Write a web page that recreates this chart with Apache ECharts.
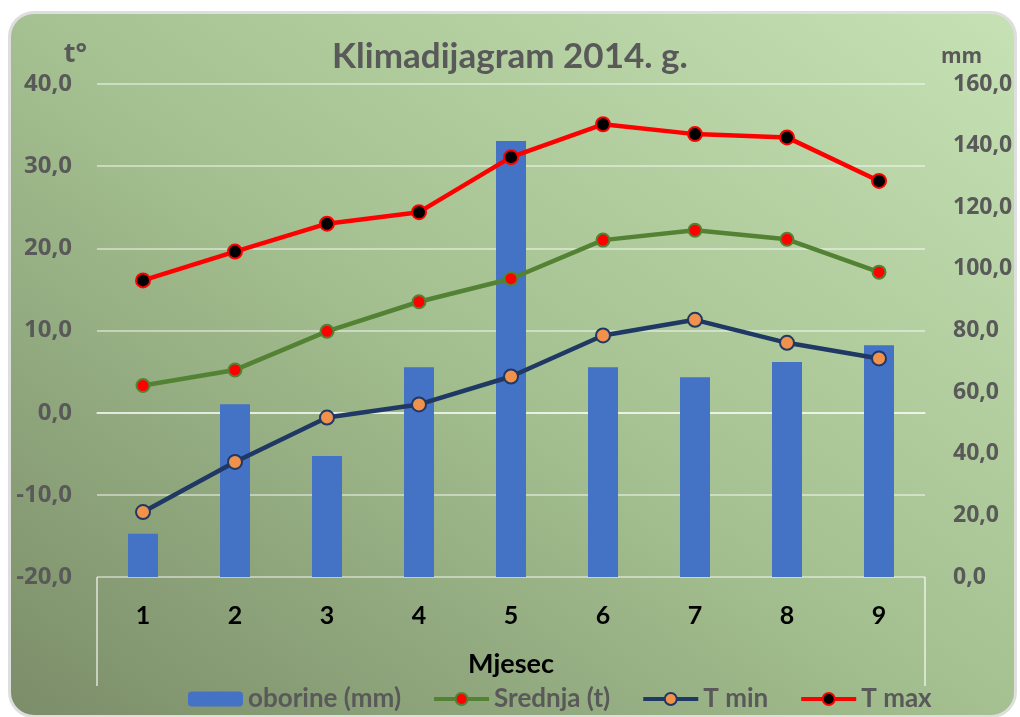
<!DOCTYPE html>
<html>
<head>
<meta charset="utf-8">
<script src="https://cdn.jsdelivr.net/npm/echarts@6/dist/echarts.min.js"></script>
<style>
  html, body { margin: 0; padding: 0; background: #fff; }
  .frame {
    position: absolute;
    left: 8px; top: 11px; width: 1003px; height: 701px;
    border: 3px solid #dedede;
    border-radius: 26px;
    background: linear-gradient(to top right, #7b8d69 0%, #a5c191 50%, #c6e2b5 100%);
  }
  #chart { position: absolute; left: 0; top: 0; width: 1020px; height: 717px; }
</style>
</head>
<body>
<div class="frame"></div>
<div id="chart"></div>
<script>
// months on the category axis
const months = ['1', '2', '3', '4', '5', '6', '7', '8', '9']
// precipitation, mm (right axis)
const oborine = [14.0, 56.1, 39.3, 68.1, 141.5, 68.1, 64.8, 69.8, 75.2]
// temperatures, °C (left axis)
const srednja = [3.3, 5.2, 9.9, 13.5, 16.3, 21.0, 22.2, 21.1, 17.1]
const tMin = [-12.1, -6.0, -0.6, 1.0, 4.4, 9.4, 11.3, 8.5, 6.6]
const tMax = [16.1, 19.6, 23.0, 24.4, 31.1, 35.1, 33.9, 33.5, 28.2]

// axis ranges
const tempAxis = { min: -20, max: 40, interval: 10 }
const mmAxis = { min: 0, max: 160, interval: 20 }

const GRID = { left: 97, right: 95, top: 84, bottom: 140 }
const LABEL_FONT = '"Open Sans", sans-serif'
const TEXT_FONT = 'Lato, sans-serif'
const GRAY = '#595959'

const fmt = (v) => v.toFixed(1).replace('.', ',')

const chart = echarts.init(document.getElementById('chart'))

const boxBottom = 686
const option = {
  backgroundColor: 'transparent',
  animation: false,
  title: {
    text: 'Klimadijagram 2014. g.',
    left: 'center',
    top: 34,
    textStyle: { fontFamily: TEXT_FONT, fontWeight: 'bold', fontSize: 35, color: GRAY },
  },
  legend: {
    left: 188,
    top: 686,
    padding: 0,
    itemWidth: 55,
    itemHeight: 15,
    itemGap: 31,
    lineStyle: { width: 4 },
    textStyle: { fontFamily: TEXT_FONT, fontWeight: 'bold', fontSize: 26, color: GRAY },
    data: ['oborine (mm)', 'Srednja (t)', 'T min', 'T max'],
  },
  grid: { ...GRID },
  xAxis: {
    type: 'category',
    data: months,
    name: 'Mjesec',
    nameLocation: 'middle',
    nameGap: 74,
    nameTextStyle: { fontFamily: TEXT_FONT, fontWeight: 'bold', fontSize: 27, color: '#000' },
    axisLine: { lineStyle: { color: 'rgba(255,255,255,0.75)', width: 1.5 } },
    axisTick: { show: false },
    axisLabel: { margin: 26, fontFamily: TEXT_FONT, fontWeight: 'bold', fontSize: 25, color: '#000' },
  },
  yAxis: [
    {
      type: 'value',
      ...tempAxis,
      name: 't°',
      nameLocation: 'end',
      nameGap: 16,
      nameTextStyle: { fontFamily: LABEL_FONT, fontWeight: 'bold', fontSize: 27, color: GRAY, align: 'right', padding: [0, 10, 0, 0] },
      axisLine: { show: false },
      axisTick: { show: false },
      axisLabel: { margin: 25, fontFamily: LABEL_FONT, fontWeight: 'bold', fontSize: 24, color: GRAY, formatter: fmt },
      splitLine: { lineStyle: { color: 'rgba(255,255,255,0.6)', width: 1.5 } },
    },
    {
      type: 'value',
      ...mmAxis,
      name: 'mm',
      nameLocation: 'end',
      nameGap: 16,
      nameTextStyle: { fontFamily: LABEL_FONT, fontWeight: 'bold', fontSize: 21, color: GRAY, align: 'left', padding: [0, 0, 0, 16] },
      axisLine: { show: false },
      axisTick: { show: false },
      axisLabel: { margin: 28, fontFamily: LABEL_FONT, fontWeight: 'bold', fontSize: 23, color: GRAY, formatter: fmt },
      splitLine: { show: false },
    },
  ],
  series: [
    {
      name: 'oborine (mm)',
      type: 'bar',
      yAxisIndex: 1,
      data: oborine,
      barWidth: 30,
      itemStyle: { color: '#4472C4' },
    },
    {
      name: 'Srednja (t)',
      type: 'line',
      data: srednja,
      symbol: 'circle',
      symbolSize: 13,
      lineStyle: { color: '#548235', width: 4.5 },
      itemStyle: { color: '#FF0000', borderColor: '#548235', borderWidth: 2 },
    },
    {
      name: 'T min',
      type: 'line',
      data: tMin,
      symbol: 'circle',
      symbolSize: 14,
      lineStyle: { color: '#203864', width: 4.5 },
      itemStyle: { color: '#F0914C', borderColor: '#203864', borderWidth: 2 },
    },
    {
      name: 'T max',
      type: 'line',
      data: tMax,
      symbol: 'circle',
      symbolSize: 14,
      lineStyle: { color: '#FF0000', width: 4.5 },
      itemStyle: { color: '#000000', borderColor: '#FF0000', borderWidth: 2 },
    },
  ],
  graphic: [
    {
      type: 'polyline',
      silent: true,
      shape: { points: [[GRID.left, 717 - GRID.bottom], [GRID.left, boxBottom]] },
      style: { stroke: 'rgba(255,255,255,0.75)', lineWidth: 1.5 },
    },
    {
      type: 'polyline',
      silent: true,
      shape: { points: [[1020 - GRID.right, 717 - GRID.bottom], [1020 - GRID.right, boxBottom]] },
      style: { stroke: 'rgba(255,255,255,0.75)', lineWidth: 1.5 },
    },
  ],
}

chart.setOption(option)
</script>
</body>
</html>
